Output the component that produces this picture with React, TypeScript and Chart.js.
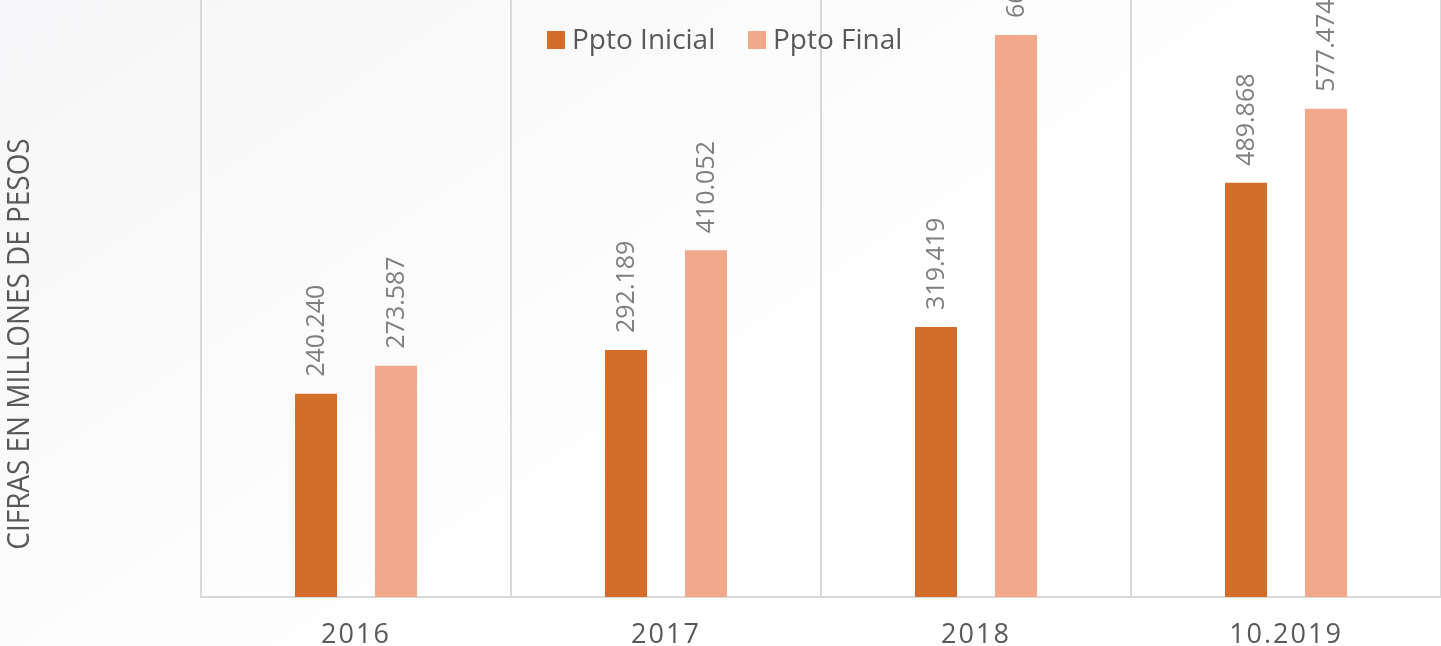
import React, { useEffect, useRef } from "react";
import { Chart, registerables } from "chart.js";

Chart.register(...registerables);

const categories = ["2016", "2017", "2018", "10.2019"];
const pptoInicial = [240.24, 292.189, 319.419, 489.868];
const pptoFinal = [273.587, 410.052, 664.52, 577.474];
const seriesNames = ["Ppto Inicial", "Ppto Final"];
const seriesColors = ["#D36D2A", "#F2A88A"];
const axisTitle = "CIFRAS EN MILLONES DE PESOS";

const FONT = "'Open Sans', 'Liberation Sans', sans-serif";

const overlayPlugin = {
  id: "overlay",
  beforeDraw(chart: any) {
    const { ctx, width, height } = chart;
    ctx.save();
    const g = ctx.createLinearGradient(0, 0, width * 0.3, height);
    g.addColorStop(0, "#f6f6f8");
    g.addColorStop(1, "#ffffff");
    ctx.fillStyle = g;
    ctx.fillRect(0, 0, width, height);
    ctx.restore();
    (ctx as any).letterSpacing = "2px";
  },
  afterDraw(chart: any) {
    const { ctx } = chart;
    ctx.save();
    (ctx as any).letterSpacing = "0px";
    // data labels
    chart.data.datasets.forEach((ds: any, di: number) => {
      const meta = chart.getDatasetMeta(di);
      meta.data.forEach((bar: any, i: number) => {
        const v = ds.data[i] as number;
        ctx.save();
        ctx.translate(bar.x + 1, bar.y - 17);
        ctx.rotate(-Math.PI / 2);
        ctx.scale(0.96, 1);
        ctx.font = `26px ${FONT}`;
        ctx.fillStyle = "#7f7f7f";
        ctx.textAlign = "left";
        ctx.textBaseline = "middle";
        ctx.fillText(v.toFixed(3), 0, 0);
        ctx.restore();
      });
    });
    // legend
    const legendItems = [
      { x: 547, text: seriesNames[0], color: seriesColors[0] },
      { x: 748, text: seriesNames[1], color: seriesColors[1] },
    ];
    legendItems.forEach((it) => {
      ctx.fillStyle = it.color;
      ctx.fillRect(it.x, 31, 18, 18);
      ctx.font = `28px ${FONT}`;
      ctx.fillStyle = "#595959";
      ctx.textAlign = "left";
      ctx.textBaseline = "middle";
      ctx.fillText(it.text, it.x + 25, 41);
    });
    // y axis title
    ctx.save();
    ctx.translate(20, 344);
    ctx.rotate(-Math.PI / 2);
    ctx.scale(0.9, 1);
    ctx.font = `31px ${FONT}`;
    ctx.fillStyle = "#595959";
    ctx.textAlign = "center";
    ctx.textBaseline = "middle";
    ctx.fillText(axisTitle, 0, 0);
    ctx.restore();
    ctx.restore();
  },
};

export default function App() {
  const ref = useRef<HTMLCanvasElement>(null);
  useEffect(() => {
    if (!ref.current) return;
    const chart = new Chart(ref.current, {
      type: "bar",
      data: {
        labels: categories,
        datasets: [
          {
            label: seriesNames[0],
            data: pptoInicial,
            backgroundColor: seriesColors[0],
            categoryPercentage: 0.516,
            barPercentage: 0.525,
          },
          {
            label: seriesNames[1],
            data: pptoFinal,
            backgroundColor: seriesColors[1],
            categoryPercentage: 0.516,
            barPercentage: 0.525,
          },
        ],
      },
      options: {
        animation: false,
        responsive: false,
        devicePixelRatio: 1,
        layout: { padding: { left: 201, right: 0, top: 0, bottom: 0 } },
        plugins: {
          legend: { display: false },
          tooltip: { enabled: false },
          title: { display: false },
        },
        scales: {
          x: {
            grid: { offset: true, color: "#d9d9d9", lineWidth: 2, drawTicks: false },
            border: { color: "#d9d9d9", width: 2 },
            ticks: {
              color: "#595959",
              font: { family: FONT, size: 27 },
              padding: 22,
            },
            afterFit(s: any) {
              s.height = 49;
            },
          },
          y: { display: false, min: 0, max: 706 },
        },
      },
      plugins: [overlayPlugin],
    } as any);
    return () => chart.destroy();
  }, []);
  return (
    <div style={{ position: "fixed", left: 0, top: 0, width: 1441, height: 646 }}>
      <canvas ref={ref} width={1441} height={646} style={{ display: "block", width: 1441, height: 646 }} />
    </div>
  );
}
